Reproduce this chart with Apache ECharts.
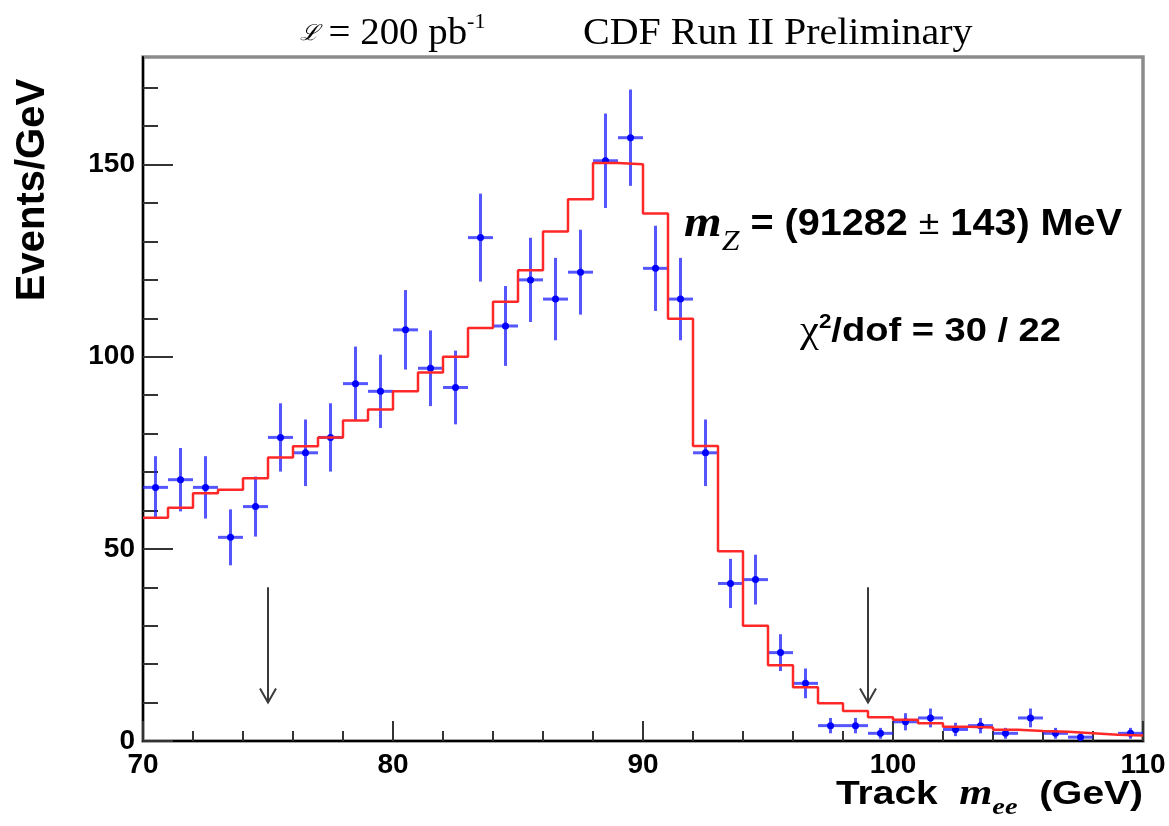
<!DOCTYPE html>
<html><head><meta charset="utf-8">
<script src="https://cdn.jsdelivr.net/npm/echarts@6/dist/echarts.min.js"></script>
<style>html,body{margin:0;padding:0;background:#fff}#c{width:1169px;height:826px}</style>
</head><body><div id="c"></div>
<script>
// ---- data (1 GeV bins, 70-110 GeV) ----
const binCenters = [70.5,71.5,72.5,73.5,74.5,75.5,76.5,77.5,78.5,79.5,
  80.5,81.5,82.5,83.5,84.5,85.5,86.5,87.5,88.5,89.5,
  90.5,91.5,92.5,93.5,94.5,95.5,96.5,97.5,98.5,99.5,
  100.5,101.5,102.5,103.5,104.5,105.5,106.5,107.5,108.5,109.5];
const eventCounts = [66,68,66,53,61,79,75,79,93,91,
  107,97,92,131,108,120,115,122,151,157,
  123,115,75,41,42,23,15,4,4,2,
  5,6,3,4,2,6,2,1,0,2];
const fitValues = [58.1,60.7,64.5,65.4,68.4,73.8,76.7,79.0,83.4,86.3,
  91.0,95.9,100.0,107.5,114.3,122.5,132.6,141.0,150.4,150.1,
  137.3,109.9,76.8,49.4,30.0,19.7,14.0,9.8,7.8,6.2,
  5.5,4.6,3.7,3.5,2.9,2.6,2.4,2.0,1.6,1.4];
const binWidth = 1;
const yTickValues = [0, 50, 100, 150];
// mass window arrows: [mass, arrow top, arrow tip]
const cutArrows = [[75, 40, 10], [99, 40, 10]];

const sans = '"Liberation Sans", Arial, Helvetica, sans-serif';
const serif = '"Liberation Serif", "Times New Roman", serif';

const histData = binCenters.map((c, i) => [c - binWidth / 2, fitValues[i]]);
histData.push([binCenters[binCenters.length - 1] + binWidth / 2, fitValues[fitValues.length - 1]]);
const pointData = binCenters.map((c, i) => [c, eventCounts[i]]);

const chart = echarts.init(document.getElementById('c'), null, {renderer: 'canvas'});
const tickStyle = {color: '#333', width: 2};
const labelStyle = {fontFamily: sans, fontWeight: 'bold', fontSize: 28, color: '#000'};

const option = {
  animation: false,
  backgroundColor: '#fff',
  grid: {left: 143, right: 26, top: 57, bottom: 85, show: true,
    borderColor: '#8c8c8c', borderWidth: 3.5, backgroundColor: 'transparent'},
  xAxis: {
    type: 'value', min: 70, max: 110, interval: 10,
    axisLine: {show: true, onZero: false, lineStyle: {color: '#000', width: 2}},
    axisTick: {show: true, inside: true, length: 20, lineStyle: tickStyle},
    minorTick: {show: true, splitNumber: 5, length: 10, lineStyle: tickStyle},
    splitLine: {show: false}, minorSplitLine: {show: false},
    axisLabel: Object.assign({margin: 10, showMinLabel: true, showMaxLabel: true}, labelStyle)
  },
  yAxis: {
    type: 'value', min: 0, max: 178, interval: 50,
    axisLine: {show: true, onZero: false, lineStyle: {color: '#000', width: 2}},
    axisTick: {show: true, inside: true, length: 30, customValues: yTickValues, lineStyle: tickStyle},
    minorTick: {show: true, splitNumber: 5, length: 15, lineStyle: tickStyle},
    splitLine: {show: false}, minorSplitLine: {show: false},
    axisLabel: Object.assign({margin: 8, customValues: yTickValues}, labelStyle)
  },
  series: [
    {
      type: 'custom', name: 'data', clip: true, z: 2,
      data: pointData,
      encode: {x: 0, y: 1},
      renderItem: function (params, api) {
        const x = api.value(0), n = api.value(1);
        if (!(n > 0)) return null;
        const e = Math.sqrt(n);
        const c = api.coord([x, n]);
        const top = api.coord([x, n + e]);
        const bot = api.coord([x, Math.max(0, n - e)]);
        const l = api.coord([x - binWidth / 2, n]);
        const r = api.coord([x + binWidth / 2, n]);
        const st = {stroke: 'rgba(30,30,255,0.75)', lineWidth: 3};
        return {type: 'group', children: [
          {type: 'line', shape: {x1: c[0], y1: top[1], x2: c[0], y2: bot[1]}, style: st},
          {type: 'line', shape: {x1: l[0], y1: c[1], x2: r[0], y2: c[1]}, style: st},
          {type: 'circle', shape: {cx: c[0], cy: c[1], r: 3.5}, style: {fill: '#0000ff'}}
        ]};
      }
    },
    {
      type: 'line', name: 'fit', step: 'end', z: 3,
      data: histData, showSymbol: false, symbol: 'none',
      lineStyle: {color: '#ff2828', width: 2.5}
    },
    {
      type: 'custom', name: 'arrows', z: 4,
      data: cutArrows,
      encode: {x: 0, y: [1, 2]},
      renderItem: function (params, api) {
        const x = api.value(0);
        const a = api.coord([x, api.value(1)]);
        const b = api.coord([x, api.value(2)]);
        const st = {stroke: '#3a3a3a', lineWidth: 2, fill: null};
        return {type: 'group', children: [
          {type: 'line', shape: {x1: a[0], y1: a[1], x2: b[0], y2: b[1]}, style: st},
          {type: 'polyline', shape: {points: [[b[0] - 8, b[1] - 14], [b[0], b[1]], [b[0] + 8, b[1] - 14]]}, style: st}
        ]};
      }
    }
  ],
  graphic: [
    {type: 'text', x: 300, y: 34, scaleX: 1.05,
      style: {text: '{l|ℒ}{t| = 200 pb}{s|-1}', verticalAlign: 'middle', align: 'left',
        rich: {
          l: {fontFamily: serif, fontStyle: 'italic', fontSize: 22, fill: '#000'},
          t: {fontFamily: serif, fontSize: 37, fill: '#000'},
          s: {fontFamily: serif, fontSize: 21, fill: '#000', padding: [0, 0, 24, 0]}
        }}},
    {type: 'text', x: 583, y: 34, scaleX: 1.08,
      style: {text: 'CDF Run II Preliminary', fontFamily: serif, fontSize: 37, fill: '#000',
        verticalAlign: 'middle', align: 'left'}},
    {type: 'text', x: 33, y: 190, rotation: Math.PI / 2,
      style: {text: 'Events/GeV', fontFamily: sans, fontWeight: 'bold', fontSize: 40, fill: '#000',
        verticalAlign: 'middle', align: 'center'}},
    {type: 'text', x: 1143, y: 795, scaleX: 1.18,
      style: {text: '{b|Track  }{m|m}{s|ee}{b|  (GeV)}', align: 'right', verticalAlign: 'middle',
        rich: {
          b: {fontFamily: sans, fontWeight: 'bold', fontSize: 33, fill: '#000'},
          m: {fontFamily: serif, fontWeight: 'bold', fontStyle: 'italic', fontSize: 36, fill: '#000'},
          s: {fontFamily: serif, fontWeight: 'bold', fontStyle: 'italic', fontSize: 24, fill: '#000', padding: [26, 0, 0, 0]}
        }}},
    {type: 'text', x: 684, y: 225, scaleX: 1.1,
      style: {text: '{m|m}{z|Z}{t| = (91282 }{p|±}{t| 143) MeV}', align: 'left', verticalAlign: 'middle',
        rich: {
          m: {fontFamily: serif, fontWeight: 'bold', fontStyle: 'italic', fontSize: 44, fill: '#000'},
          z: {fontFamily: serif, fontStyle: 'italic', fontSize: 29, fill: '#000', padding: [34, 0, 0, 0]},
          t: {fontFamily: sans, fontWeight: 'bold', fontSize: 36, fill: '#000'},
          p: {fontFamily: sans, fontSize: 34, fill: '#000'}
        }}},
    {type: 'text', x: 800, y: 332, scaleX: 1.12,
      style: {text: '{c|χ}{s|2}{t|/dof = 30 / 22}', align: 'left', verticalAlign: 'middle',
        rich: {
          c: {fontFamily: serif, fontSize: 38, fill: '#000'},
          s: {fontFamily: sans, fontWeight: 'bold', fontSize: 20, fill: '#000', padding: [0, 0, 20, 0]},
          t: {fontFamily: sans, fontWeight: 'bold', fontSize: 34, fill: '#000'}
        }}}
  ]
};
chart.setOption(option);
</script>
</body></html>
